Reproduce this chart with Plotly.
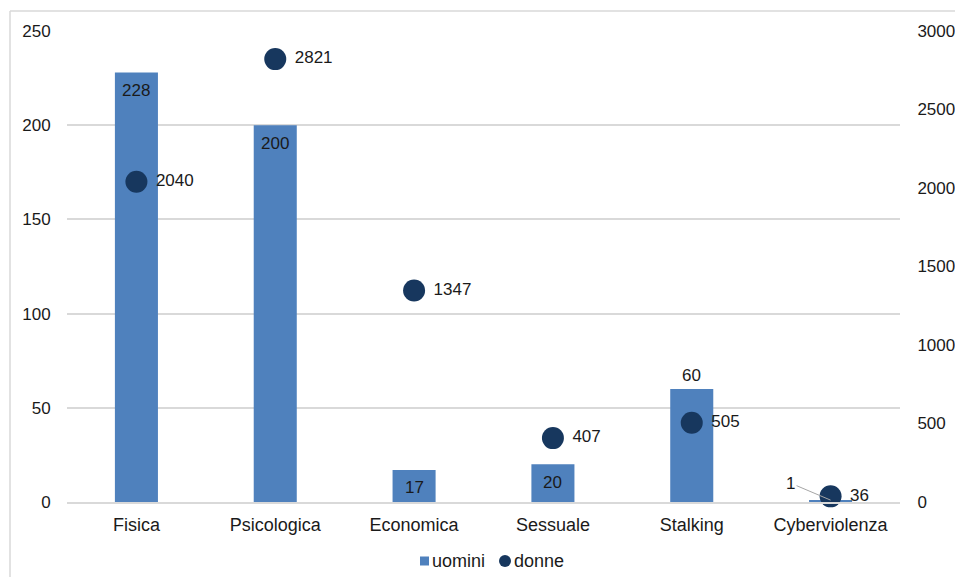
import plotly.graph_objects as go

categorie = ["Fisica", "Psicologica", "Economica", "Sessuale", "Stalking", "Cyberviolenza"]
uomini = [228, 200, 17, 20, 60, 1]
donne = [2040, 2821, 1347, 407, 505, 36]

FONT = "Liberation Sans, Arial, sans-serif"
FS = 17
TXT = "#1a1a1a"
GRID = "#d9d9d9"
BAR_C = "#4F81BD"
DOT_C = "#17375E"
W, H = 955, 577
L, R, T, B = 67, 55, 31, 75
pw, ph = W - L - R, H - T - B


def px_x(px):
    return (px - L) / pw


def px_y(py):
    return (T + ph - py) / ph


fig = go.Figure()
fig.add_trace(go.Bar(
    x=categorie, y=uomini, name="uomini",
    marker=dict(color=BAR_C, line=dict(width=0)),
    showlegend=False,
))
fig.add_trace(go.Scatter(
    x=categorie, y=donne, name="donne", yaxis="y2", mode="markers+text",
    marker=dict(color=DOT_C, size=22, symbol="circle"),
    text=["\u00a0" + str(v) for v in donne], textposition="middle right",
    textfont=dict(family=FONT, size=FS, color=TXT),
    cliponaxis=False, showlegend=False,
))

# bar value labels: inside near the top, outside for Stalking,
# leader line for the tiny Cyberviolenza bar
for cat, v in zip(categorie, uomini):
    if cat == "Cyberviolenza":
        fig.add_annotation(
            x=cat, y=v, xref="x", yref="y", text=str(v),
            showarrow=True, arrowhead=0, arrowwidth=1, arrowcolor="#a6a6a6",
            ax=-40, ay=-17, standoff=0,
            font=dict(family=FONT, size=FS, color=TXT),
        )
    elif cat == "Stalking":
        fig.add_annotation(
            x=cat, y=v, xref="x", yref="y", text=str(v), showarrow=False,
            yanchor="middle", yshift=13,
            font=dict(family=FONT, size=FS, color=TXT),
        )
    else:
        fig.add_annotation(
            x=cat, y=v, xref="x", yref="y", text=str(v), showarrow=False,
            yanchor="middle", yshift=-18,
            font=dict(family=FONT, size=FS, color=TXT),
        )

# light frame (left and top edges) around the chart area
fig.add_shape(type="line", xref="paper", yref="paper",
              x0=px_x(10), x1=px_x(W), y0=px_y(11), y1=px_y(11),
              line=dict(color=GRID, width=1.5))
fig.add_shape(type="line", xref="paper", yref="paper",
              x0=px_x(10), x1=px_x(10), y0=px_y(11), y1=px_y(H),
              line=dict(color=GRID, width=1.5))

# legend at the bottom
LEG_Y = 561
fig.add_shape(type="rect", xref="paper", yref="paper",
              x0=px_x(420), x1=px_x(429), y0=px_y(LEG_Y + 4.5), y1=px_y(LEG_Y - 4.5),
              fillcolor=BAR_C, line=dict(width=0))
fig.add_shape(type="circle", xref="paper", yref="paper",
              x0=px_x(499), x1=px_x(511), y0=px_y(LEG_Y + 6), y1=px_y(LEG_Y - 6),
              fillcolor=DOT_C, line=dict(width=0))
for name, x0 in (("uomini", 430), ("donne", 512)):
    fig.add_annotation(x=px_x(x0), y=px_y(LEG_Y), xref="paper", yref="paper",
                       text=name, showarrow=False, xanchor="left", yanchor="middle",
                       font=dict(family=FONT, size=18, color=TXT))

fig.update_layout(
    width=W, height=H,
    margin=dict(l=L, r=R, t=T, b=B, autoexpand=False),
    paper_bgcolor="white", plot_bgcolor="white",
    font=dict(family=FONT, size=FS, color=TXT),
    bargap=0.69,
    showlegend=False,
    xaxis=dict(
        automargin=False,
        showgrid=False, showline=True, linecolor=GRID, linewidth=1.5,
        ticks="outside", ticklen=6, tickcolor="rgba(0,0,0,0)",
        tickfont=dict(family=FONT, size=18, color=TXT),
    ),
    yaxis=dict(
        automargin=False,
        range=[0, 250], dtick=50, showgrid=True, gridcolor=GRID, gridwidth=1.5,
        zeroline=False, showline=False,
        ticks="outside", ticklen=12, tickcolor="rgba(0,0,0,0)",
        tickfont=dict(family=FONT, size=FS, color=TXT),
    ),
    yaxis2=dict(
        automargin=False,
        range=[0, 3000], dtick=500, overlaying="y", side="right",
        showgrid=False, zeroline=False, showline=False,
        ticks="outside", ticklen=13, tickcolor="rgba(0,0,0,0)",
        tickfont=dict(family=FONT, size=FS, color=TXT),
    ),
)

fig.write_html("out.html")
